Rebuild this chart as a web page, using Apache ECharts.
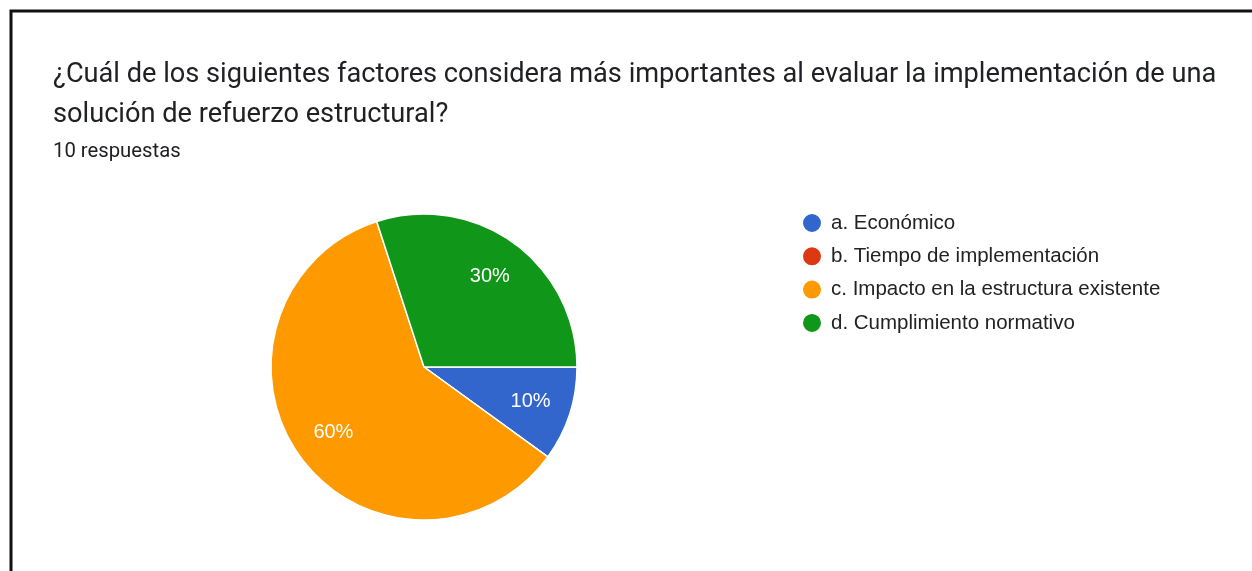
<!DOCTYPE html>
<html>
<head>
<meta charset="utf-8">
<title>Factores de refuerzo estructural</title>
<script src="https://cdn.jsdelivr.net/npm/echarts@6/dist/echarts.min.js"></script>
<style>
  html, body { margin: 0; padding: 0; background: #fff; }
  #chart { width: 1252px; height: 571px; }
</style>
</head>
<body>
<div id="chart"></div>
<script>
const titleLines = [
  '¿Cuál de los siguientes factores considera más importantes al evaluar la implementación de una',
  'solución de refuerzo estructural?'
]
const responsesText = '10 respuestas'

const categories = [
  'a. Económico',
  'b. Tiempo de implementación',
  'c. Impacto en la estructura existente',
  'd. Cumplimiento normativo'
]
const counts = [1, 0, 6, 3]
const colors = ['#3366cc', '#dc3912', '#ff9900', '#109618']

const pieData = categories.map((name, i) => ({
  name: name,
  value: counts[i],
  itemStyle: { color: colors[i] }
}))

const chart = echarts.init(document.getElementById('chart'))

chart.setOption({
  animation: false,
  graphic: [
    {
      type: 'polyline',
      shape: { points: [[11, 600], [11, 11], [1300, 11]] },
      style: { stroke: '#111', lineWidth: 3, fill: null }
    },
    {
      type: 'text',
      left: 53,
      top: 55,
      style: {
        text: titleLines.join('\n'),
        font: '27.2px Roboto',
        lineHeight: 40,
        fill: '#202124'
      }
    },
    {
      type: 'text',
      left: 53,
      top: 142,
      style: {
        text: responsesText,
        font: '20.3px Roboto',
        fill: '#202124'
      }
    }
  ],
  legend: {
    orient: 'vertical',
    left: 796,
    top: 207,
    icon: 'circle',
    itemWidth: 20,
    itemHeight: 20,
    itemGap: 11.3,
    data: categories,
    textStyle: {
      fontFamily: 'Liberation Sans',
      fontSize: 20.5,
      color: '#222',
      padding: [0, 0, 0, 4]
    },
    selectedMode: false
  },
  series: [
    {
      type: 'pie',
      center: [424, 367],
      radius: [0, 153],
      startAngle: 0,
      clockwise: true,
      silent: true,
      data: pieData,
      itemStyle: { borderColor: '#fff', borderWidth: 1.5 },
      label: { show: false },
      labelLine: { show: false }
    },
    {
      // label-only ring so the percentages sit at about 72% of the radius
      type: 'pie',
      center: [424, 367],
      radius: [65, 153],
      startAngle: 0,
      clockwise: true,
      silent: true,
      legendHoverLink: false,
      data: pieData.map(d => ({ name: d.name, value: d.value })),
      itemStyle: { color: 'rgba(0,0,0,0)' },
      label: {
        show: true,
        position: 'inside',
        color: '#fff',
        fontSize: 20,
        fontFamily: 'Liberation Sans',
        formatter: p => (p.value > 0 ? Math.round(p.percent) + '%' : '')
      },
      labelLine: { show: false }
    }
  ]
})
</script>
</body>
</html>
